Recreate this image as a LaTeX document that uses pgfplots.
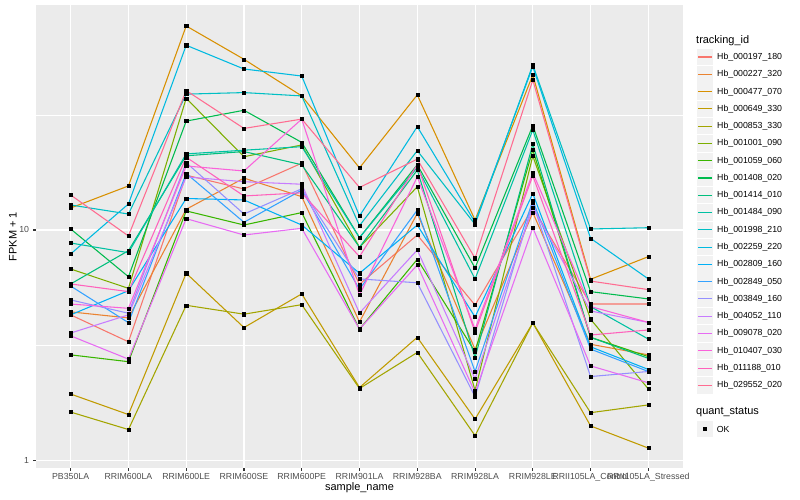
\documentclass[border=0pt]{standalone}
\usepackage{fontspec}
\setmainfont{Liberation Sans}
\usepackage{pgfplots}
\usepackage{pgfplotstable}
\pgfplotsset{compat=1.18}

% ggplot hue palette, 20 series
\definecolor{c1}{HTML}{F8766D}
\definecolor{c2}{HTML}{EA8331}
\definecolor{c3}{HTML}{D89000}
\definecolor{c4}{HTML}{C09B00}
\definecolor{c5}{HTML}{A3A500}
\definecolor{c6}{HTML}{7CAE00}
\definecolor{c7}{HTML}{39B600}
\definecolor{c8}{HTML}{00BB4E}
\definecolor{c9}{HTML}{00BF7D}
\definecolor{c10}{HTML}{00C1A3}
\definecolor{c11}{HTML}{00BFC4}
\definecolor{c12}{HTML}{00BAE0}
\definecolor{c13}{HTML}{00B0F6}
\definecolor{c14}{HTML}{35A2FF}
\definecolor{c15}{HTML}{9590FF}
\definecolor{c16}{HTML}{C77CFF}
\definecolor{c17}{HTML}{E76BF3}
\definecolor{c18}{HTML}{FA62DB}
\definecolor{c19}{HTML}{FF62BC}
\definecolor{c20}{HTML}{FF6C91}
\definecolor{ggpanel}{HTML}{EBEBEB}
\definecolor{ggkey}{HTML}{F2F2F2}
\definecolor{ggtick}{HTML}{333333}
\definecolor{gglab}{HTML}{4D4D4D}

% FPKM + 1, one row per sample, one column per tracking_id
\pgfplotstableread{
x  a1    a2    a3    a4   a5   a6    a7    a8    a9    a10   a11   a12   a13   a14   a15   a16   a17   a18   a19   a20
0  4.28  4.41  12.46 1.94 1.62 6.77  2.87  10.10 5.83  8.78  12.84 7.87  4.28  5.71  4.97  3.57  3.47  4.77  5.83  14.19
1  3.27  4.15  15.53 1.58 1.36 5.58  2.68  6.27  8.13  7.97  11.73 12.97 5.45  3.96  4.35  4.28  2.75  4.57  5.40  9.42
2  17.3  12.3  76.9  6.49 4.71 37.3  12.1  29.7  21.0  21.4  38.9  63.4  13.7  17.6  19.6  17.0  11.2  18.96 20.7  40.3
3  15.07 16.8  55.1  3.77 4.31 20.8  10.51 33.1  21.9  22.2  39.5  50.0  13.5  10.8  11.73 16.2  9.51  18.04 14.05 27.6
4  19.5  13.95 38.2  5.28 4.74 23.4  11.9  24.0  19.2  23.0  38.2  46.6  10.51 14.9  15.1  15.8  10.17 30.3  14.5  30.3
5  5.81  3.99  18.6  2.07 2.05 8.41  3.71  9.26  8.41  9.26  10.44 11.50 6.49  5.53  6.13  4.36  3.71  5.22  7.66  15.3
6  9.51  11.8  38.6  3.42 2.94 15.4  7.46  19.2  18.2  18.7  22.1  28.1  10.51 12.2  5.90  8.19  7.05  17.0  19.2  20.3
7  4.72  3.03  11.05 1.51 1.28 2.01  2.96  6.84  2.79  6.13  10.58 10.80 4.19  2.43  1.89  2.26  1.97  3.71  3.60  7.54
8  12.5  11.9  47.1  3.95 3.95 20.96 22.3  28.4  23.6  27.2  52.1  51.2  14.4  13.4  13.1  12.5  10.23 17.7  17.2  44.8
9  4.77  3.19  6.11  1.41 1.61 4.10  3.42  5.40  3.42  4.65  10.10 9.20  3.11  3.04  2.31  4.45  2.57  4.65  3.50  6.00
10 4.77  2.87  7.66  1.13 1.74 2.04  2.82  5.02  2.77  3.36  10.23 6.13  2.48  2.43  2.43  3.97  2.17  3.97  3.68  5.51
}\fpkm

\begin{document}
\begin{tikzpicture}
\path[use as bounding box] (0bp,0bp) rectangle (800bp,500bp);
\begin{axis}[
    at={(36bp,32bp)}, anchor=south west,
    scale only axis, width=647bp, height=463bp,
    ymode=log,
    xmin=-0.6, xmax=10.6,
    ymin=0.926, ymax=94.8,
    xtick={0,...,10},
    xticklabels={PB350LA,RRIM600LA,RRIM600LE,RRIM600SE,RRIM600PE,RRIM901LA,RRIM928BA,RRIM928LA,RRIM928LE,RRII105LA\_Control,RRII105LA\_Stressed},
    ytick={1,10}, yticklabels={1,10},
    minor ytick={3.1623,31.623},
    xmajorgrids, ymajorgrids, yminorgrids,
    major grid style={white, line width=1.07bp},
    minor grid style={white, line width=0.53bp},
    axis background/.style={fill=ggpanel},
    axis line style={draw=none},
    xtick pos=left, ytick pos=left,
    tick align=outside,
    major tick length=2.74bp, minor tick length=0pt,
    tick style={ggtick, line width=1.07bp},
    /pgf/number format/assume math mode=true,
    xticklabel style={font=\fontsize{8.8}{10}\selectfont, text=gglab, inner sep=0pt, anchor=north},
    yticklabel style={font=\fontsize{8.8}{10}\selectfont, text=gglab, inner sep=0pt, anchor=east},
    xticklabel shift=2bp, yticklabel shift=4bp,
    xlabel={sample\_name}, ylabel={FPKM + 1},
    label style={font=\fontsize{11}{13}\selectfont},
    xlabel style={at={(axis description cs:0.5,-0.0486)}, anchor=base},
    ylabel style={at={(axis description cs:-0.0298,0.5)}, anchor=base},
    legend style={at={(1.0212,0.9063)}, anchor=north west, draw=none, fill=none,
        inner sep=0pt, outer sep=0pt, row sep=0pt, column sep=4bp,
        font=\fontsize{8.8}{10}\selectfont, nodes={inner sep=0pt}},
    legend cell align=left,
    legend image code/.code={
        \path[fill=ggkey, draw=none] (0bp,-8.2bp) rectangle (16.5bp,8.2bp);
        \path[draw=none] (0bp,-8.64bp) rectangle (1bp,8.64bp);
        \draw[line width=1.07bp] (1.5bp,0bp) -- (15bp,0bp);
    },
]
\pgfplotsinvokeforeach{1,...,20}{
    \addplot[color=c#1, line width=1.07bp, mark=none] table[x=x, y=a#1] {\fpkm};
}
\legend{Hb\_000197\_180,Hb\_000227\_320,Hb\_000477\_070,Hb\_000649\_330,Hb\_000853\_330,
    Hb\_001001\_090,Hb\_001059\_060,Hb\_001408\_020,Hb\_001414\_010,Hb\_001484\_090,
    Hb\_001998\_210,Hb\_002259\_220,Hb\_002809\_160,Hb\_002849\_050,Hb\_003849\_160,
    Hb\_004052\_110,Hb\_009078\_020,Hb\_010407\_030,Hb\_011188\_010,Hb\_029552\_020}
% points on top of every line, as ggplot draws them
\pgfplotsinvokeforeach{1,...,20}{
    \addplot[forget plot, only marks, mark=square*, mark size=1.55bp,
        mark options={fill=black, draw=none}] table[x=x, y=a#1] {\fpkm};
}
\end{axis}
% legend titles and the quant_status key
\node[anchor=west, inner sep=0pt, font=\fontsize{11}{13}\selectfont] at (696bp,459.3bp) {tracking\_id};
\node[anchor=west, inner sep=0pt, font=\fontsize{11}{13}\selectfont] at (696bp,87.7bp) {quant\_status};
\fill[ggkey] (696.7bp,62.8bp) rectangle (713.2bp,79.2bp);
\fill[black] (703.4bp,69.4bp) rectangle (706.6bp,72.6bp);
\node[anchor=west, inner sep=0pt, font=\fontsize{8.8}{10}\selectfont] at (716.7bp,71bp) {OK};
\end{tikzpicture}
\end{document}
